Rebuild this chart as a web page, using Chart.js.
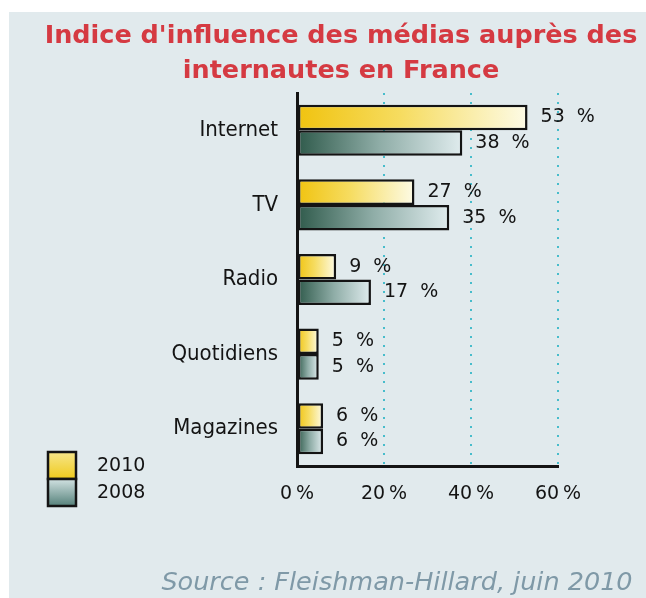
<!DOCTYPE html>
<html lang="fr">
<head>
<meta charset="utf-8">
<title>Indice d'influence des médias</title>
<script src="https://cdn.jsdelivr.net/npm/chart.js@4/dist/chart.umd.min.js"></script>
<style>
    html, body { margin: 0; padding: 0; background: #ffffff; }
    #wrap { width: 646px; height: 598px; }
</style>
</head>
<body>
<div id="wrap"><canvas id="mediaChart" width="646" height="598"></canvas></div>
<script>
// Données
const medias = ["Internet", "TV", "Radio", "Quotidiens", "Magazines"];
const annees = ["2010", "2008"];
const valeurs2010 = [53, 27, 9, 5, 6];
const valeurs2008 = [38, 35, 17, 5, 6];
const graduations = [0, 20, 40, 60];

const titre = ["Indice d'influence des médias auprès des", "internautes en France"];
const source = "Source : Fleishman-Hillard, juin 2010";

const FONT = '"DejaVu Sans", Verdana, sans-serif';
const FONT_COND = '"DejaVu Sans Condensed", "DejaVu Sans", sans-serif';
const ENCRE = "#141414";

// dégradés des barres (de gauche à droite)
const jauneStops = [[0, "#f0c30f"], [0.45, "#f6dc60"], [1, "#fdfbe6"]];
const vertStops = [[0, "#2f5a4b"], [0.5, "#8fada7"], [1, "#e0ecee"]];

function barGradient(stops) {
    return function (context) {
        const chart = context.chart;
        if (!chart.chartArea || !chart.scales.x) return stops[1][1];
        const x = chart.scales.x;
        const x0 = x.getPixelForValue(0);
        const x1 = Math.max(x.getPixelForValue(context.raw || 0), x0 + 1);
        const g = chart.ctx.createLinearGradient(x0, 0, x1, 0);
        stops.forEach(([o, c]) => g.addColorStop(o, c));
        return g;
    };
}

// fond, titre, source et légende
const decorPlugin = {
    id: "decor",
    beforeDraw(chart) {
        const ctx = chart.ctx;
        ctx.save();
        ctx.fillStyle = "#ffffff";
        ctx.fillRect(0, 0, chart.width, chart.height);
        ctx.fillStyle = "#e1eaed";
        ctx.fillRect(9, 12, chart.width - 9, chart.height - 12);
        ctx.restore();
    },
    afterDraw(chart) {
        const ctx = chart.ctx;
        ctx.save();
        // titre
        ctx.fillStyle = "#d53a42";
        ctx.font = "bold 25.5px " + FONT;
        ctx.textAlign = "center";
        ctx.textBaseline = "alphabetic";
        ctx.fillText(titre[0], 341, 43);
        ctx.fillText(titre[1], 341, 78);

        // source
        ctx.fillStyle = "#7f99a7";
        ctx.font = "italic 25.5px " + FONT;
        ctx.fillText(source, 397, 590);

        // légende
        const stops = [
            [[0, "#f7e68a"], [1, "#efca1c"]],
            [[0, "#d2e2e2"], [1, "#55817a"]],
        ];
        chart.data.datasets.forEach((ds, i) => {
            const y = 452 + i * 27;
            const g = ctx.createLinearGradient(0, y, 0, y + 27);
            stops[i].forEach(([o, c]) => g.addColorStop(o, c));
            ctx.fillStyle = g;
            ctx.fillRect(48, y, 28, 27);
            ctx.strokeStyle = ENCRE;
            ctx.lineWidth = 2.5;
            ctx.strokeRect(48, y, 28, 27);
            ctx.fillStyle = ENCRE;
            ctx.font = "19px " + FONT;
            ctx.textAlign = "left";
            ctx.textBaseline = "middle";
            ctx.fillText(ds.label, 97, y + 14);
        });
        ctx.restore();
    },
    afterDatasetsDraw(chart) {
        // valeurs à droite des barres
        const ctx = chart.ctx;
        ctx.save();
        ctx.fillStyle = ENCRE;
        ctx.font = "19px " + FONT;
        ctx.textAlign = "left";
        ctx.textBaseline = "middle";
        chart.data.datasets.forEach((ds, i) => {
            chart.getDatasetMeta(i).data.forEach((bar, j) => {
                ctx.fillText(ds.data[j] + "  %", bar.x + 13, bar.y);
            });
        });
        ctx.restore();
    },
};

new Chart(document.getElementById("mediaChart"), {
    type: "bar",
    data: {
        labels: medias,
        datasets: [
            {
                label: annees[0],
                data: valeurs2010,
                backgroundColor: barGradient(jauneStops),
                borderColor: ENCRE,
                borderWidth: 2.5,
                borderSkipped: false,
            },
            {
                label: annees[1],
                data: valeurs2008,
                backgroundColor: barGradient(vertStops),
                borderColor: ENCRE,
                borderWidth: 2.5,
                borderSkipped: false,
            },
        ],
    },
    options: {
        indexAxis: "y",
        responsive: false,
        animation: false,
        layout: { padding: { top: 93, right: 88, bottom: 0, left: 0 } },
        datasets: {
            bar: { categoryPercentage: 0.685, barPercentage: 1 },
        },
        plugins: {
            legend: { display: false },
            title: { display: false },
            tooltip: { enabled: false },
        },
        scales: {
            x: {
                min: graduations[0],
                max: graduations[graduations.length - 1],
                afterBuildTicks(scale) {
                    scale.ticks = graduations.map((v) => ({ value: v }));
                },
                afterFit(scale) {
                    scale.height = 132;
                },
                grid: {
                    color: (c) => (c.tick && c.tick.value === 0 ? "rgba(0,0,0,0)" : "#47bccb"),
                    lineWidth: 2,
                    drawTicks: false,
                },
                border: { display: true, color: ENCRE, width: 3, dash: [2, 7] },
                ticks: {
                    padding: 17,
                    color: ENCRE,
                    font: { family: FONT, size: 19 },
                    callback: (v) => v + "\u2009%",
                },
            },
            y: {
                afterFit(scale) {
                    scale.width = 297;
                },
                grid: { display: false, drawTicks: false },
                border: { display: true, color: ENCRE, width: 3 },
                ticks: {
                    padding: 19,
                    color: ENCRE,
                    font: { family: FONT_COND, size: 22 },
                },
            },
        },
    },
    plugins: [decorPlugin],
});
</script>
</body>
</html>
